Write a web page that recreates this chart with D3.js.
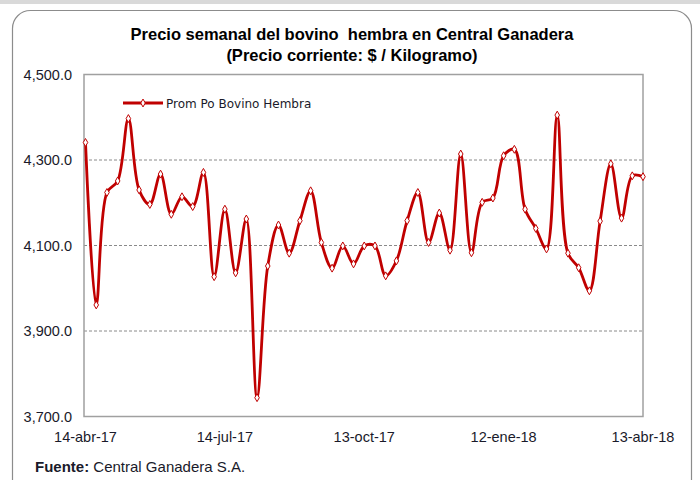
<!DOCTYPE html>
<html>
<head>
<meta charset="utf-8">
<script src="https://cdn.jsdelivr.net/npm/d3@7"></script>
<style>
  body { margin: 0; background: #fff; }
  svg { display: block; font-family: "Liberation Sans Narrow", "Liberation Sans", Arial, sans-serif; }
</style>
</head>
<body>
<div id="chart"></div>
<script>
// weekly price, 14-abr-17 .. 13-abr-18
const weeks = d3.range(53);
const precio = [
  4341, 3961, 4224, 4251, 4397, 4230, 4196, 4267, 4173, 4214,
  4191, 4271, 4027, 4185, 4036, 4162, 3744, 4052, 4148, 4082,
  4158, 4228, 4107, 4047, 4099, 4057, 4099, 4099, 4029, 4064,
  4158, 4224, 4107, 4176, 4089, 4314, 4083, 4201, 4211, 4310,
  4325, 4185, 4140, 4092, 4405, 4082, 4048, 3994, 4157, 4291,
  4164, 4263, 4261
];
const tickWeeks = [0, 13, 26, 39, 52];
const tickLabels = ["14-abr-17", "14-jul-17", "13-oct-17", "12-ene-18", "13-abr-18"];
const yTicks = [3700, 3900, 4100, 4300, 4500];
const gridTicks = [3900, 4100, 4300];

const W = 700, H = 480;
const red = "#c00000";

const svg = d3.select("#chart").append("svg")
    .attr("width", W)
    .attr("height", H);

// top grey band and rounded frame
svg.append("rect").attr("x", 0).attr("y", 0).attr("width", W).attr("height", 4).attr("fill", "#d9d9d9");
svg.append("rect")
    .attr("x", 12.5).attr("y", 10.5)
    .attr("width", 679).attr("height", 490)
    .attr("rx", 18)
    .attr("fill", "#fff")
    .attr("stroke", "#8c8c8c")
    .attr("stroke-width", 1.2);

// titles
svg.append("text")
    .attr("x", 352).attr("y", 40)
    .attr("text-anchor", "middle")
    .attr("font-size", 16.5).attr("font-weight", "bold")
    .attr("xml:space", "preserve")
    .text("Precio semanal del bovino  hembra en Central Ganadera");
svg.append("text")
    .attr("x", 352).attr("y", 61)
    .attr("text-anchor", "middle")
    .attr("font-size", 16.5).attr("font-weight", "bold")
    .text("(Precio corriente: $ / Kilogramo)");

// scales
const x = d3.scaleLinear().domain([0, 52]).range([85.5, 643]);
const y = d3.scaleLinear().domain([3700, 4500]).range([416.5, 74.5]);

// gridlines
svg.append("g")
    .selectAll("line")
    .data(gridTicks)
    .join("line")
    .attr("x1", 84).attr("x2", 643)
    .attr("y1", d => y(d)).attr("y2", d => y(d))
    .attr("stroke", "#8a8a8a")
    .attr("stroke-dasharray", "3,2");

// plot frame
svg.append("rect")
    .attr("x", 84).attr("y", 74.5)
    .attr("width", 559).attr("height", 342)
    .attr("fill", "none")
    .attr("stroke", "#a0a0a0")
    .attr("stroke-width", 1.5);

// y axis labels
svg.append("g")
    .selectAll("text")
    .data(yTicks)
    .join("text")
    .attr("x", 72).attr("y", d => y(d) + 5)
    .attr("text-anchor", "end")
    .attr("font-family", "Liberation Sans, Arial, sans-serif")
    .attr("font-size", 14.5)
    .attr("fill", "#1a1a2a")
    .text(d => d3.format(",.1f")(d));

// x axis labels
svg.append("g")
    .selectAll("text")
    .data(tickWeeks)
    .join("text")
    .attr("x", d => x(d))
    .attr("y", 442)
    .attr("text-anchor", "middle")
    .attr("font-size", 14.5)
    .attr("fill", "#1a1a2a")
    .text((d, i) => tickLabels[i]);

// series line
const line = d3.line()
    .x((d, i) => x(weeks[i]))
    .y(d => y(d))
    .curve(d3.curveCatmullRom.alpha(0.5));

svg.append("path")
    .datum(precio)
    .attr("d", line)
    .attr("fill", "none")
    .attr("stroke", red)
    .attr("stroke-width", 2.8);

const marker = d3.symbol().type(d3.symbolDiamond).size(18);
svg.append("g")
    .selectAll("path")
    .data(precio)
    .join("path")
    .attr("d", marker)
    .attr("transform", (d, i) => `translate(${x(weeks[i])},${y(d)})`)
    .attr("fill", "#fff")
    .attr("stroke", red)
    .attr("stroke-width", 1);

// legend
const lg = svg.append("g");
lg.append("line")
    .attr("x1", 123).attr("x2", 163)
    .attr("y1", 103).attr("y2", 103)
    .attr("stroke", red).attr("stroke-width", 2.8);
lg.append("path")
    .attr("d", marker)
    .attr("transform", "translate(143,103)")
    .attr("fill", "#fff").attr("stroke", red).attr("stroke-width", 1);
lg.append("text")
    .attr("x", 166).attr("y", 107.5)
    .attr("font-family", "DejaVu Sans, Verdana, sans-serif")
    .attr("font-size", 12)
    .attr("fill", "#1a1a2a")
    .text("Prom Po Bovino Hembra");

// source note
const src = svg.append("text")
    .attr("x", 35).attr("y", 472)
    .attr("font-size", 15)
    .attr("fill", "#1a1a2a");
src.append("tspan").attr("font-weight", "bold").text("Fuente: ");
src.append("tspan").text("Central Ganadera S.A.");
</script>
</body>
</html>
